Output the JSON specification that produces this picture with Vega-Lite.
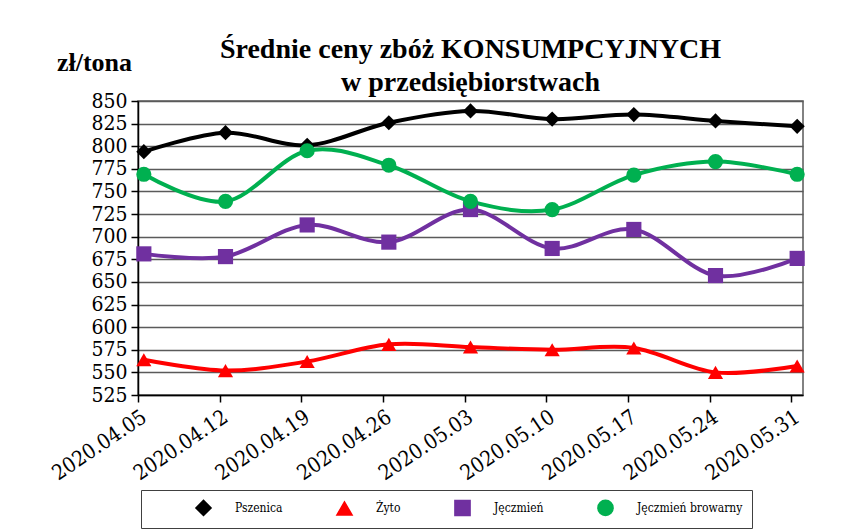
{
  "$schema": "https://vega.github.io/schema/vega-lite/v6.json",
  "width": 665,
  "height": 294,
  "autosize": {"type": "none"},
  "padding": {"left": 138, "top": 101, "right": 39, "bottom": 136},
  "background": "white",
  "title": {
    "text": ["Średnie ceny zbóż KONSUMPCYJNYCH", "w przedsiębiorstwach"],
    "font": "Liberation Serif",
    "fontSize": 28,
    "fontWeight": "bold",
    "color": "#000000",
    "anchor": "middle",
    "lineHeight": 33,
    "offset": -48
  },
  "data": {
    "values": [
      {"date": "2020-04-05T12:00:00", "series": "Pszenica", "value": 794},
      {"date": "2020-04-12T12:00:00", "series": "Pszenica", "value": 815},
      {"date": "2020-04-19T12:00:00", "series": "Pszenica", "value": 801},
      {"date": "2020-04-26T12:00:00", "series": "Pszenica", "value": 826},
      {"date": "2020-05-03T12:00:00", "series": "Pszenica", "value": 839},
      {"date": "2020-05-10T12:00:00", "series": "Pszenica", "value": 830},
      {"date": "2020-05-17T12:00:00", "series": "Pszenica", "value": 835},
      {"date": "2020-05-24T12:00:00", "series": "Pszenica", "value": 828},
      {"date": "2020-05-31T12:00:00", "series": "Pszenica", "value": 822},
      {"date": "2020-04-05T12:00:00", "series": "Żyto", "value": 564},
      {"date": "2020-04-12T12:00:00", "series": "Żyto", "value": 552},
      {"date": "2020-04-19T12:00:00", "series": "Żyto", "value": 562},
      {"date": "2020-04-26T12:00:00", "series": "Żyto", "value": 581},
      {"date": "2020-05-03T12:00:00", "series": "Żyto", "value": 578},
      {"date": "2020-05-10T12:00:00", "series": "Żyto", "value": 575},
      {"date": "2020-05-17T12:00:00", "series": "Żyto", "value": 577},
      {"date": "2020-05-24T12:00:00", "series": "Żyto", "value": 550},
      {"date": "2020-05-31T12:00:00", "series": "Żyto", "value": 557},
      {"date": "2020-04-05T12:00:00", "series": "Jęczmień", "value": 681},
      {"date": "2020-04-12T12:00:00", "series": "Jęczmień", "value": 678},
      {"date": "2020-04-19T12:00:00", "series": "Jęczmień", "value": 713},
      {"date": "2020-04-26T12:00:00", "series": "Jęczmień", "value": 694},
      {"date": "2020-05-03T12:00:00", "series": "Jęczmień", "value": 730},
      {"date": "2020-05-10T12:00:00", "series": "Jęczmień", "value": 687},
      {"date": "2020-05-17T12:00:00", "series": "Jęczmień", "value": 708},
      {"date": "2020-05-24T12:00:00", "series": "Jęczmień", "value": 657},
      {"date": "2020-05-31T12:00:00", "series": "Jęczmień", "value": 676},
      {"date": "2020-04-05T12:00:00", "series": "Jęczmień browarny", "value": 769},
      {"date": "2020-04-12T12:00:00", "series": "Jęczmień browarny", "value": 739},
      {"date": "2020-04-19T12:00:00", "series": "Jęczmień browarny", "value": 795},
      {"date": "2020-04-26T12:00:00", "series": "Jęczmień browarny", "value": 779},
      {"date": "2020-05-03T12:00:00", "series": "Jęczmień browarny", "value": 739},
      {"date": "2020-05-10T12:00:00", "series": "Jęczmień browarny", "value": 730},
      {"date": "2020-05-17T12:00:00", "series": "Jęczmień browarny", "value": 768},
      {"date": "2020-05-24T12:00:00", "series": "Jęczmień browarny", "value": 783},
      {"date": "2020-05-31T12:00:00", "series": "Jęczmień browarny", "value": 769}
    ]
  },
  "encoding": {
    "x": {
      "field": "date",
      "type": "temporal",
      "scale": {
        "domain": [
          {"year": 2020, "month": 4, "date": 5},
          {"year": 2020, "month": 6, "date": 1}
        ]
      },
      "axis": {
        "title": null,
        "values": [
          {"year": 2020, "month": 4, "date": 5},
          {"year": 2020, "month": 4, "date": 12},
          {"year": 2020, "month": 4, "date": 19},
          {"year": 2020, "month": 4, "date": 26},
          {"year": 2020, "month": 5, "date": 3},
          {"year": 2020, "month": 5, "date": 10},
          {"year": 2020, "month": 5, "date": 17},
          {"year": 2020, "month": 5, "date": 24},
          {"year": 2020, "month": 5, "date": 31}
        ],
        "format": "%Y.%m.%d",
        "labelAngle": -34,
        "labelAlign": "right",
        "labelBaseline": "middle",
        "labelFont": "DejaVu Serif Condensed",
        "labelFontSize": 21,
        "labelColor": "#000000",
        "labelPadding": 13,
        "labelOffset": 6,
        "labelOverlap": false,
        "labelFlush": false,
        "grid": false,
        "domainColor": "#000000",
        "domainWidth": 1.5,
        "tickColor": "#000000",
        "tickWidth": 1.5,
        "tickSize": 7
      }
    },
    "y": {
      "field": "value",
      "type": "quantitative",
      "scale": {"domain": [525, 850], "nice": false, "zero": false},
      "axis": {
        "title": "zł/tona",
        "titleAngle": 0,
        "titleFont": "Liberation Serif",
        "titleFontSize": 26,
        "titleFontWeight": "bold",
        "titleColor": "#000000",
        "titleAlign": "center",
        "titleBaseline": "alphabetic",
        "titleX": -44,
        "titleY": -31,
        "values": [525, 550, 575, 600, 625, 650, 675, 700, 725, 750, 775, 800, 825, 850],
        "labelFont": "DejaVu Serif Condensed",
        "labelFontSize": 21,
        "labelColor": "#000000",
        "labelPadding": 4,
        "labelOverlap": false,
        "labelFlush": false,
        "grid": true,
        "gridColor": "#5a5a5a",
        "gridWidth": 1.5,
        "domainColor": "#000000",
        "domainWidth": 1.5,
        "tickColor": "#000000",
        "tickWidth": 1.5,
        "tickSize": 7
      }
    }
  },
  "layer": [
    {
      "mark": {"type": "line", "interpolate": "cardinal", "strokeWidth": 4},
      "encoding": {
        "color": {
          "field": "series",
          "type": "nominal",
          "scale": {
            "domain": ["Pszenica", "Żyto", "Jęczmień", "Jęczmień browarny"],
            "range": ["#000000", "#ff0000", "#7030a0", "#00b050"]
          },
          "legend": {
            "title": null,
            "orient": "none",
            "legendX": 3,
            "legendY": 389,
            "direction": "horizontal",
            "labelFont": "DejaVu Serif Condensed",
            "labelFontSize": 12,
            "labelColor": "#000000",
            "symbolOffset": 45,
            "labelOffset": 23,
            "columnPadding": 8,
            "padding": 9,
            "strokeColor": "#404040",
            "fillColor": "#ffffff"
          }
        }
      }
    },
    {
      "mark": {"type": "point", "filled": true, "opacity": 1, "strokeWidth": 0},
      "encoding": {
        "fill": {
          "field": "series",
          "type": "nominal",
          "scale": {
            "domain": ["Pszenica", "Żyto", "Jęczmień", "Jęczmień browarny"],
            "range": ["#000000", "#ff0000", "#7030a0", "#00b050"]
          },
          "legend": null
        },
        "shape": {
          "field": "series",
          "type": "nominal",
          "scale": {
            "domain": ["Pszenica", "Żyto", "Jęczmień", "Jęczmień browarny"],
            "range": ["diamond", "triangle-up", "square", "circle"]
          },
          "legend": null
        },
        "size": {
          "field": "series",
          "type": "nominal",
          "scale": {
            "domain": ["Pszenica", "Żyto", "Jęczmień", "Jęczmień browarny"],
            "range": [230, 230, 240, 320]
          },
          "legend": null
        }
      }
    }
  ],
  "config": {
    "font": "Liberation Serif",
    "view": {"stroke": "#5a5a5a", "strokeWidth": 1.5}
  }
}
